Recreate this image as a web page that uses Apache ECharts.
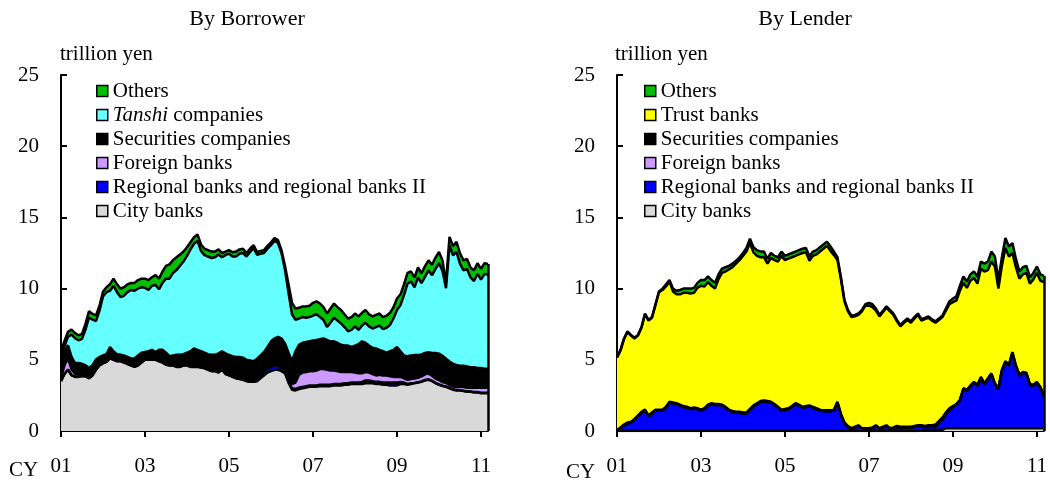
<!DOCTYPE html>
<html>
<head>
<meta charset="utf-8">
<script src="https://cdn.jsdelivr.net/npm/echarts@6.0.0/dist/echarts.min.js"></script>
<style>
html, body { margin: 0; padding: 0; background: #fff; }
#chart { width: 1050px; height: 484px; }
</style>
</head>
<body>
<div id="chart"></div>
<script>
var FONT = '"Liberation Serif", "Times New Roman", serif';

// monthly, Jan 2001 .. Mar 2011
var months = [];
for (var y = 2001; y <= 2011; y++) {
    for (var m = 1; m <= 12; m++) {
        if (months.length < 123) months.push(y + '/' + m);
    }
}
var tickLabels = ['01', '03', '05', '07', '09', '11'];

// ---- By Borrower (trillion yen) ----
var borCity = [3.5, 4.0, 4.3, 3.9, 3.8, 3.8, 3.85, 3.85, 3.7, 3.9, 4.3,
    4.6, 4.75, 4.85, 5.1, 5.0, 4.9, 4.9, 4.8, 4.7, 4.6,
    4.5, 4.6, 4.8, 5.0, 5.0, 5.0, 5.0, 4.9, 4.8, 4.65,
    4.6, 4.6, 4.5, 4.5, 4.6, 4.6, 4.5, 4.5, 4.5, 4.45,
    4.4, 4.3, 4.2, 4.2, 4.1, 4.3, 4.0, 3.9, 3.8, 3.7,
    3.65, 3.6, 3.5, 3.45, 3.45, 3.5, 3.7, 3.9, 4.1, 4.2,
    4.3, 4.3, 4.2, 4.05, 3.4, 2.9, 2.85, 2.95, 3.0, 3.05,
    3.1, 3.1, 3.1, 3.15, 3.15, 3.15, 3.15, 3.2, 3.2, 3.2,
    3.25, 3.25, 3.3, 3.3, 3.3, 3.3, 3.35, 3.35, 3.35, 3.3,
    3.3, 3.25, 3.25, 3.2, 3.2, 3.2, 3.3, 3.3, 3.25, 3.3,
    3.35, 3.4, 3.45, 3.55, 3.6, 3.5, 3.35, 3.25, 3.15, 3.1,
    3.0, 2.9, 2.85, 2.85, 2.8, 2.75, 2.75, 2.7, 2.7, 2.65, 2.65, 2.65];
var borRegional = [0.02, 0.02, 0.02, 0.02, 0.02, 0.02, 0.02, 0.02, 0.02, 0.02, 0.02,
    0.02, 0.02, 0.02, 0.02, 0.02, 0.02, 0.02, 0.02, 0.02, 0.02,
    0.02, 0.02, 0.02, 0.02, 0.02, 0.02, 0.02, 0.02, 0.02, 0.02,
    0.02, 0.02, 0.02, 0.02, 0.02, 0.02, 0.02, 0.02, 0.02, 0.02,
    0.02, 0.02, 0.02, 0.02, 0.02, 0.02, 0.02, 0.02, 0.02, 0.02,
    0.02, 0.02, 0.02, 0.02, 0.02, 0.05, 0.1, 0.2, 0.25, 0.3,
    0.3, 0.3, 0.2, 0.1, 0.05, 0.1, 0.1, 0.1, 0.1, 0.1,
    0.1, 0.1, 0.1, 0.1, 0.1, 0.1, 0.1, 0.1, 0.1, 0.1,
    0.1, 0.1, 0.1, 0.1, 0.1, 0.15, 0.2, 0.2, 0.15, 0.15,
    0.15, 0.15, 0.15, 0.2, 0.2, 0.2, 0.15, 0.1, 0.05, 0.05,
    0.03, 0.03, 0.03, 0.03, 0.03, 0.03, 0.03, 0.03, 0.03, 0.03,
    0.03, 0.03, 0.03, 0.03, 0.03, 0.03, 0.03, 0.03, 0.03, 0.03, 0.03, 0.03];
var borForeign = [0.2, 0.6, 0.8, 0.4, 0.2, 0.15, 0.15, 0.15, 0.1, 0.05, 0.05,
    0.03, 0.03, 0.03, 0.03, 0.03, 0.03, 0.03, 0.03, 0.03, 0.03,
    0.03, 0.03, 0.03, 0.03, 0.03, 0.03, 0.03, 0.03, 0.03, 0.03,
    0.03, 0.03, 0.03, 0.03, 0.03, 0.03, 0.03, 0.03, 0.03, 0.03,
    0.03, 0.03, 0.03, 0.03, 0.03, 0.03, 0.03, 0.03, 0.03, 0.03,
    0.03, 0.03, 0.03, 0.03, 0.03, 0.03, 0.05, 0.05, 0.05, 0.05,
    0.05, 0.05, 0.05, 0.1, 0.2, 0.3, 0.45, 0.9, 1.0, 1.0,
    1.0, 1.0, 1.05, 1.1, 1.1, 1.05, 1.0, 0.95, 0.9, 0.85,
    0.8, 0.8, 0.75, 0.7, 0.65, 0.6, 0.6, 0.55, 0.5, 0.45,
    0.5, 0.5, 0.5, 0.45, 0.4, 0.4, 0.35, 0.3, 0.3, 0.3,
    0.3, 0.3, 0.35, 0.4, 0.4, 0.35, 0.3, 0.3, 0.25, 0.25,
    0.2, 0.2, 0.2, 0.25, 0.25, 0.25, 0.25, 0.3, 0.3, 0.35, 0.35, 0.35];
var borSecurities = [1.5, 1.0, 0.9, 0.9, 0.75, 0.8, 0.7, 0.6, 0.6, 0.65, 0.65,
    0.55, 0.5, 0.5, 0.75, 0.55, 0.45, 0.4, 0.45, 0.45, 0.45,
    0.55, 0.65, 0.65, 0.5, 0.55, 0.65, 0.5, 0.75, 0.85, 0.8,
    0.6, 0.65, 0.8, 0.8, 0.75, 0.85, 1.05, 1.25, 1.15, 1.1,
    1.05, 1.05, 1.1, 1.1, 1.3, 1.25, 1.4, 1.4, 1.4, 1.45,
    1.5, 1.5, 1.45, 1.45, 1.4, 1.5, 1.45, 1.4, 1.5, 1.75,
    1.85, 1.95, 2.05, 1.9, 1.85, 1.6, 2.2, 2.1, 2.1, 2.1,
    2.1, 2.15, 2.15, 2.1, 2.15, 2.1, 2.05, 2.05, 2.0, 1.9,
    1.85, 1.85, 1.75, 1.9, 2.05, 2.25, 2.05, 1.9, 1.85, 1.9,
    1.75, 1.7, 1.6, 1.75, 1.9, 2.1, 1.8, 1.6, 1.65, 1.65,
    1.65, 1.6, 1.55, 1.5, 1.5, 1.6, 1.8, 1.85, 1.85, 1.7,
    1.65, 1.6, 1.55, 1.45, 1.5, 1.5, 1.45, 1.45, 1.4, 1.4, 1.35, 1.35];
var borTanshi = [0.2, 0.35, 0.6, 1.55, 1.75, 1.6, 1.75, 2.5, 3.55, 3.2, 2.7,
    3.25, 4.15, 4.35, 3.95, 4.6, 4.35, 4.05, 4.2, 4.55, 4.8,
    4.75, 4.7, 4.6, 4.5, 4.3, 4.5, 4.7, 4.25, 4.7, 5.2,
    5.45, 5.8, 5.95, 6.25, 6.5, 6.8, 7.15, 7.35, 7.65, 7.05,
    6.85, 6.85, 6.8, 6.85, 6.95, 6.6, 6.9, 7.1, 7.0, 7.05,
    7.25, 7.35, 7.25, 7.6, 7.95, 7.3, 7.15, 6.95, 6.9, 6.75,
    6.85, 6.6, 6.0, 5.15, 4.2, 3.3, 2.2, 1.85, 1.8, 1.7,
    1.7, 1.75, 1.8, 1.55, 1.3, 0.9, 1.3, 1.65, 1.55, 1.5,
    1.3, 1.0, 1.2, 1.35, 1.0, 1.1, 1.4, 1.35, 1.35, 1.5,
    1.7, 1.55, 1.75, 1.85, 2.2, 2.6, 3.25, 4.25, 5.1, 5.2,
    4.75, 5.45, 5.0, 5.35, 5.75, 5.45, 5.9, 6.35, 5.95, 4.95,
    8.15, 7.6, 7.95, 7.15, 6.7, 6.85, 6.3, 6.05, 6.6, 6.2, 6.65, 6.6];
var borOthers = [0.2, 0.35, 0.35, 0.35, 0.35, 0.35, 0.35, 0.4, 0.45, 0.4, 0.4,
    0.35, 0.35, 0.35, 0.45, 0.5, 0.55, 0.6, 0.6, 0.55, 0.5,
    0.55, 0.6, 0.6, 0.65, 0.7, 0.6, 0.7, 0.75, 0.8, 0.9,
    1.0, 0.9, 0.9, 0.8, 0.7, 0.6, 0.5, 0.45, 0.45, 0.45,
    0.45, 0.45, 0.45, 0.4, 0.35, 0.3, 0.25, 0.25, 0.3, 0.35,
    0.3, 0.3, 0.25, 0.25, 0.2, 0.2, 0.2, 0.2, 0.2, 0.2,
    0.2, 0.2, 0.2, 0.3, 0.6, 0.8, 0.8, 0.75, 0.75, 0.8,
    0.8, 0.9, 0.9, 0.95, 0.9, 0.95, 1.0, 1.0, 0.95, 0.95,
    0.9, 0.9, 0.9, 0.9, 0.95, 0.9, 0.9, 0.85, 0.85, 0.85,
    0.85, 0.85, 0.85, 0.85, 0.8, 0.8, 0.75, 0.75, 0.75, 0.7,
    0.7, 0.7, 0.7, 0.75, 0.7, 0.75, 0.8, 0.8, 0.75, 0.35,
    0.6, 0.65, 0.7, 0.75, 0.7, 0.7, 0.7, 0.75, 0.75, 0.75, 0.75, 0.75];

// ---- By Lender (trillion yen) ----
var lenCity = [0, 0, 0, 0, 0, 0, 0, 0, 0, 0,
    0, 0, 0, 0, 0, 0, 0, 0, 0, 0,
    0, 0, 0, 0, 0, 0, 0, 0, 0, 0,
    0, 0, 0, 0, 0, 0, 0, 0, 0, 0,
    0, 0, 0, 0, 0, 0, 0, 0, 0, 0,
    0, 0, 0, 0, 0, 0, 0, 0, 0, 0,
    0, 0, 0, 0, 0, 0, 0, 0, 0, 0,
    0, 0, 0, 0, 0, 0, 0, 0, 0, 0,
    0, 0, 0, 0, 0, 0, 0, 0.05, 0.08, 0.08,
    0.08, 0.08, 0.08, 0.08, 0.2, 0.2, 0.2, 0.2, 0.2, 0.2,
    0.2, 0.2, 0.2, 0.2, 0.2, 0.2, 0.2, 0.2, 0.2, 0.2,
    0.2, 0.2, 0.2, 0.2, 0.2, 0.2, 0.2, 0.2, 0.2, 0.2,
    0.2, 0.2, 0.2];
var lenRegional = [0, 0.18, 0.38, 0.53, 0.58, 0.78, 1.03, 1.28, 1.43, 1.03, 1.23,
    1.43, 1.43, 1.43, 1.63, 1.98, 1.93, 1.88, 1.78, 1.68, 1.63,
    1.53, 1.58, 1.53, 1.43, 1.53, 1.78, 1.88, 1.83, 1.83, 1.78,
    1.63, 1.43, 1.33, 1.28, 1.28, 1.23, 1.23, 1.48, 1.73, 1.88,
    2.03, 2.08, 2.03, 1.98, 1.83, 1.63, 1.43, 1.48, 1.53, 1.68,
    1.88, 1.78, 1.63, 1.68, 1.73, 1.63, 1.53, 1.43, 1.38, 1.38,
    1.38, 1.43, 1.98, 1.13, 0.53, 0.28, 0.13, 0.23, 0.33, 0.13,
    0.13, 0.13, 0.18, 0.33, 0.13, 0.23, 0.33, 0.13, 0.18, 0.28,
    0.23, 0.23, 0.23, 0.23, 0.28, 0.33, 0.28, 0.2, 0.25, 0.25,
    0.22, 0.47, 0.72, 0.95, 1.25, 1.48, 1.63, 1.93, 2.73, 2.63,
    2.93, 3.18, 2.98, 3.53, 3.08, 3.43, 3.78, 3.08, 2.73, 4.03,
    4.63, 4.38, 5.28, 4.33, 3.68, 3.88, 3.83, 3.03, 2.98, 3.18, 2.83, 2.23];
var lenForeign = [0.02, 0.02, 0.02, 0.02, 0.02, 0.02, 0.02, 0.02, 0.02, 0.02,
    0.02, 0.02, 0.02, 0.02, 0.02, 0.02, 0.02, 0.02, 0.02, 0.02,
    0.02, 0.02, 0.02, 0.02, 0.02, 0.02, 0.02, 0.02, 0.02, 0.02,
    0.02, 0.02, 0.02, 0.02, 0.02, 0.02, 0.02, 0.02, 0.02, 0.02,
    0.02, 0.02, 0.02, 0.02, 0.02, 0.02, 0.02, 0.02, 0.02, 0.02,
    0.02, 0.02, 0.02, 0.02, 0.02, 0.02, 0.02, 0.02, 0.02, 0.02,
    0.02, 0.02, 0.02, 0.02, 0.02, 0.02, 0.02, 0.02, 0.02, 0.02,
    0.02, 0.02, 0.02, 0.02, 0.02, 0.02, 0.02, 0.02, 0.02, 0.02,
    0.02, 0.02, 0.02, 0.02, 0.02, 0.02, 0.02, 0.02, 0.02, 0.02,
    0.02, 0.1, 0.1, 0.1, 0.1, 0.1, 0.02, 0.02, 0.02, 0.02,
    0.02, 0.02, 0.02, 0.02, 0.02, 0.02, 0.02, 0.02, 0.02, 0.02,
    0.02, 0.02, 0.02, 0.02, 0.02, 0.02, 0.02, 0.02, 0.02, 0.02,
    0.02, 0.02, 0.02];
var lenSecurities = [0.05, 0.05, 0.05, 0.05, 0.05, 0.05, 0.05, 0.05, 0.05, 0.05,
    0.05, 0.05, 0.05, 0.05, 0.05, 0.05, 0.05, 0.05, 0.05, 0.05,
    0.05, 0.05, 0.05, 0.05, 0.05, 0.05, 0.05, 0.05, 0.05, 0.05,
    0.05, 0.05, 0.05, 0.05, 0.05, 0.05, 0.05, 0.05, 0.05, 0.05,
    0.05, 0.05, 0.05, 0.05, 0.05, 0.05, 0.05, 0.05, 0.05, 0.05,
    0.05, 0.05, 0.05, 0.05, 0.05, 0.05, 0.05, 0.05, 0.05, 0.05,
    0.05, 0.05, 0.05, 0.05, 0.05, 0.05, 0.05, 0.05, 0.05, 0.05,
    0.05, 0.05, 0.05, 0.05, 0.05, 0.05, 0.05, 0.05, 0.05, 0.05,
    0.05, 0.05, 0.05, 0.05, 0.05, 0.05, 0.05, 0.05, 0.05, 0.05,
    0.05, 0.05, 0.05, 0.05, 0.05, 0.05, 0.05, 0.05, 0.05, 0.05,
    0.05, 0.05, 0.05, 0.05, 0.05, 0.05, 0.05, 0.05, 0.05, 0.05,
    0.05, 0.05, 0.05, 0.05, 0.05, 0.05, 0.05, 0.05, 0.05, 0.05,
    0.05, 0.05, 0.05];
var lenTrust = [5.08, 5.4, 6.0, 6.35, 6.05, 5.65, 5.6, 5.9, 6.7, 6.65, 6.65,
    7.35, 8.25, 8.4, 8.45, 8.45, 7.8, 7.65, 7.75, 7.95, 8.0,
    8.05, 8.05, 8.45, 8.7, 8.55, 8.6, 8.25, 8.1, 8.75, 9.25,
    9.5, 9.85, 10.1, 10.4, 10.65, 11.0, 11.3, 11.65, 10.75, 10.35,
    10.1, 10.05, 9.65, 10.1, 10.1, 10.2, 10.8, 10.45, 10.5, 10.45,
    10.35, 10.55, 10.8, 10.8, 10.15, 10.6, 10.8, 11.1, 11.35, 11.55,
    11.2, 10.85, 9.95, 9.45, 8.5, 8.05, 7.8, 7.75, 7.75, 8.2,
    8.6, 8.6, 8.45, 8.05, 7.85, 8.05, 8.25, 8.2, 7.9, 7.35,
    7.05, 7.3, 7.5, 7.3, 7.55, 7.75, 7.35, 7.5, 7.55, 7.35,
    7.15, 7.1, 7.05, 7.15, 7.3, 7.3, 7.25, 7.65, 7.4, 7.15,
    7.35, 7.3, 7.1, 7.6, 7.85, 7.6, 7.85, 8.2, 7.0, 7.3,
    7.95, 7.6, 6.95, 6.9, 6.75, 6.85, 7.0, 7.05, 7.4, 7.65, 7.45, 7.95];
var lenOthers = [0.05, 0.05, 0.05, 0.05, 0.05, 0.05, 0.05, 0.05, 0.05, 0.05, 0.05,
    0.05, 0.05, 0.1, 0.15, 0.1, 0.2, 0.25, 0.3, 0.3, 0.3,
    0.35, 0.35, 0.35, 0.4, 0.45, 0.4, 0.4, 0.4, 0.35, 0.3,
    0.3, 0.25, 0.25, 0.2, 0.2, 0.2, 0.25, 0.3, 0.35, 0.4,
    0.4, 0.4, 0.35, 0.35, 0.3, 0.3, 0.3, 0.3, 0.3, 0.3,
    0.3, 0.3, 0.3, 0.3, 0.3, 0.3, 0.3, 0.3, 0.3, 0.3,
    0.3, 0.25, 0.2, 0.15, 0.1, 0.1, 0.1, 0.1, 0.1, 0.1,
    0.1, 0.2, 0.2, 0.15, 0.1, 0.1, 0.1, 0.1, 0.1, 0.1,
    0.1, 0.1, 0.1, 0.1, 0.1, 0.1, 0.1, 0.1, 0.1, 0.1,
    0.1, 0.1, 0.1, 0.15, 0.2, 0.25, 0.3, 0.35, 0.45, 0.45,
    0.45, 0.45, 0.5, 0.5, 0.55, 0.6, 0.7, 0.7, 0.6, 0.6,
    0.7, 0.7, 0.7, 0.6, 0.5, 0.5, 0.5, 0.45, 0.45, 0.45, 0.45, 0.45];

var COLORS = {
    city: '#d9d9d9', regional: '#0000ff', foreign: '#cc99ff',
    securities: '#000000', tanshi: '#66ffff', trust: '#ffff00', others: '#00c000'
};

var chart = echarts.init(document.getElementById('chart'));

function lastTotal(list) {
    var s = 0;
    list.forEach(function (a) { s += a[a.length - 1]; });
    return s;
}

function layer(name, data, color, g, edgeTop) {
    var s = {
        name: name,
        type: 'line',
        xAxisIndex: g,
        yAxisIndex: g,
        stack: 'total' + g,
        data: data,
        symbol: 'none',
        animation: false,
        color: color,
        itemStyle: {color: color},
        lineStyle: {color: '#000', width: 2.5},
        areaStyle: {color: color, opacity: 1, origin: 'start'},
        emphasis: {disabled: true},
        silent: true
    };
    if (edgeTop != null) {
        // closing edge at the last month
        var last = months[months.length - 1];
        s.markLine = {
            symbol: 'none', silent: true, animation: false,
            label: {show: false},
            lineStyle: {color: '#000', width: 2.5, type: 'solid'},
            data: [[{coord: [last, 0]}, {coord: [last, edgeTop]}]]
        };
    }
    return s;
}

function xAxisFor(g) {
    var every = function (i) { return i % 24 === 0; };
    return {
        type: 'category', gridIndex: g, data: months, boundaryGap: false,
        axisLine: {lineStyle: {color: '#000', width: 2}},
        axisTick: {inside: false, length: 6, interval: every, lineStyle: {color: '#000', width: 2}},
        axisLabel: {
            interval: every, margin: 25, color: '#000', fontSize: 21, fontFamily: FONT,
            formatter: function (v, i) { return tickLabels[i / 24]; }
        },
        splitLine: {show: false}
    };
}

function yAxisFor(g) {
    return {
        type: 'value', gridIndex: g, min: 0, max: 25, interval: 5,
        axisLine: {show: true, lineStyle: {color: '#000', width: 2}},
        axisTick: {show: true, inside: true, length: 6, lineStyle: {color: '#000', width: 2}},
        axisLabel: {margin: 22, color: '#000', fontSize: 21, fontFamily: FONT},
        splitLine: {show: false}
    };
}

function legendFor(names, left) {
    return {
        data: names, orient: 'vertical', left: left, top: 79, padding: 0,
        itemWidth: 11, itemHeight: 11, itemGap: 0, icon: 'rect',
        selectedMode: false,
        itemStyle: {borderColor: '#000', borderWidth: 1.5},
        textStyle: {
            color: '#000', fontSize: 21, fontFamily: FONT, lineHeight: 24,
            rich: {it: {fontStyle: 'italic', color: '#000', fontSize: 21, fontFamily: FONT, lineHeight: 24}}
        },
        formatter: function (n) {
            return n === 'Tanshi companies' ? '{it|Tanshi} companies' : n;
        }
    };
}

function label(text, x, y, align) {
    return {
        type: 'text', x: x, y: y, silent: true,
        style: {text: text, fill: '#000', fontSize: 21, fontFamily: FONT, align: align || 'left', verticalAlign: 'middle'}
    };
}

var borTop = lastTotal([borCity, borRegional, borForeign, borSecurities, borTanshi, borOthers]);
var lenTop = lastTotal([lenCity, lenRegional, lenForeign, lenSecurities, lenTrust, lenOthers]);

var option = {
    backgroundColor: '#fff',
    animation: false,
    grid: [
        {left: 61, width: 427, top: 75, bottom: 53},
        {left: 617, width: 427, top: 75, bottom: 53}
    ],
    xAxis: [xAxisFor(0), xAxisFor(1)],
    yAxis: [yAxisFor(0), yAxisFor(1)],
    legend: [
        legendFor(['Others', 'Tanshi companies', 'Securities companies', 'Foreign banks',
            'Regional banks and regional banks II', 'City banks'], 96),
        legendFor(['Others', 'Trust banks', 'Securities companies', 'Foreign banks',
            'Regional banks and regional banks II', 'City banks'], 644)
    ],
    graphic: [
        {type: 'text', x: 247, y: 19, silent: true,
            style: {text: 'By Borrower', fill: '#000', fontSize: 22, fontFamily: FONT, align: 'center', verticalAlign: 'middle'}},
        {type: 'text', x: 805, y: 19, silent: true,
            style: {text: 'By Lender', fill: '#000', fontSize: 22, fontFamily: FONT, align: 'center', verticalAlign: 'middle'}},
        label('trillion yen', 60, 54),
        label('trillion yen', 615, 54),
        label('CY', 9, 470),
        label('CY', 566, 472)
    ],
    series: [
        layer('City banks', borCity, COLORS.city, 0),
        layer('Regional banks and regional banks II', borRegional, COLORS.regional, 0),
        layer('Foreign banks', borForeign, COLORS.foreign, 0),
        layer('Securities companies', borSecurities, COLORS.securities, 0),
        layer('Tanshi companies', borTanshi, COLORS.tanshi, 0),
        layer('Others', borOthers, COLORS.others, 0, borTop),

        layer('City banks', lenCity, COLORS.city, 1),
        layer('Regional banks and regional banks II', lenRegional, COLORS.regional, 1),
        layer('Foreign banks', lenForeign, COLORS.foreign, 1),
        layer('Securities companies', lenSecurities, COLORS.securities, 1),
        layer('Trust banks', lenTrust, COLORS.trust, 1),
        layer('Others', lenOthers, COLORS.others, 1, lenTop)
    ]
};

chart.setOption(option);
</script>
</body>
</html>
